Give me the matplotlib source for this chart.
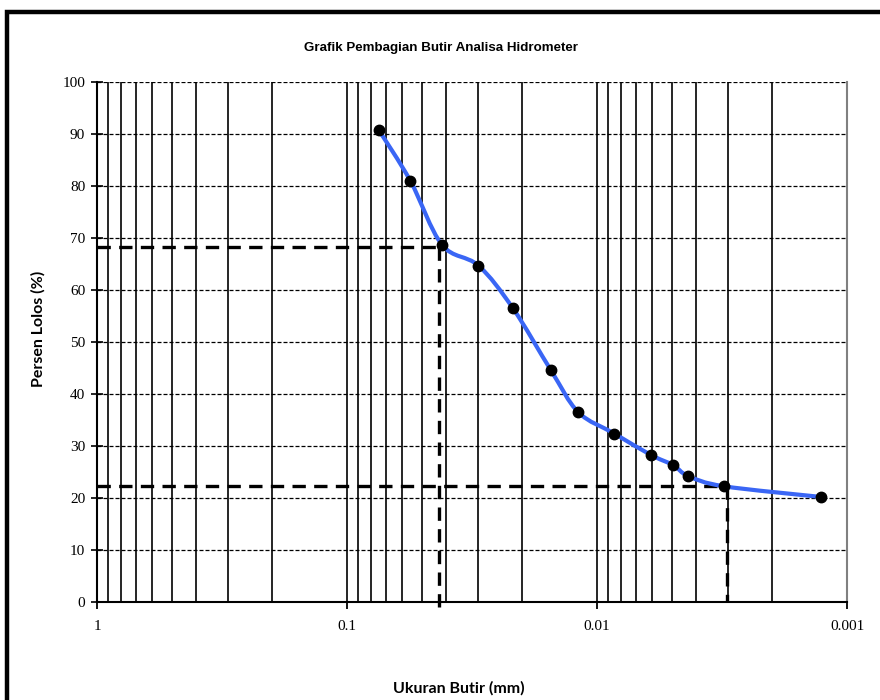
import numpy as np
import matplotlib
matplotlib.use("Agg")
import matplotlib.pyplot as plt
from matplotlib.path import Path
from matplotlib.patches import PathPatch, Rectangle
from matplotlib.ticker import FixedLocator, FixedFormatter, NullFormatter

# ---- data ----
diameter_mm = [0.0747, 0.0558, 0.0417, 0.0298, 0.0217, 0.0153, 0.01188,
               0.00853, 0.0061, 0.00495, 0.00431, 0.0031, 0.00127]
percent_passing = [90.8, 81.0, 68.7, 64.7, 56.5, 44.6, 36.5,
                   32.4, 28.3, 26.3, 24.2, 22.25, 20.2]

ref_d = [0.0427, 0.00303]        # diameters of the dashed reference lines
ref_p = [68.3, 22.25]            # percent of the dashed reference lines

x_ticks = [1, 0.1, 0.01, 0.001]
x_tick_labels = ["1", "0.1", "0.01", "0.001"]
y_ticks = [0, 10, 20, 30, 40, 50, 60, 70, 80, 90, 100]

title = "Grafik Pembagian Butir Analisa Hidrometer"
xlabel = "Ukuran Butir (mm)"
ylabel = "Persen Lolos (%)"

# ---- figure ----
W, H = 880, 700
fig = plt.figure(figsize=(W / 100, H / 100), dpi=100)
fig.patch.set_facecolor("white")

# outer frame (only top and left edges visible in reference)
fig.add_artist(Rectangle((7 / W, -0.05), 1.2, (H - 12) / H + 0.05,
                         transform=fig.transFigure, fill=False,
                         edgecolor="black", linewidth=3.2))

ax = fig.add_axes([97 / W, 1 - 602 / H, (847 - 97) / W, (602 - 82) / H])
ax.set_xscale("log")
ax.set_xlim(1, 0.001)
ax.set_ylim(0, 100)

# vertical grid: solid black at every minor/major log position
minor_pos = [m * 10.0 ** e for e in (-1, -2, -3) for m in range(2, 10)]
for xv in minor_pos + [0.1, 0.01]:
    ax.axvline(xv, color="black", lw=1.2, zorder=1)
# horizontal grid: dashed
for yv in y_ticks[1:]:
    ax.axhline(yv, color="black", lw=0.9, ls=(0, (3.2, 1.6)), zorder=1)

# spines
ax.spines["top"].set_visible(False)
ax.spines["right"].set_color("#808080")
ax.spines["right"].set_linewidth(1.5)
ax.spines["left"].set_linewidth(1.5)
ax.spines["bottom"].set_linewidth(1.5)

ax.xaxis.set_major_locator(FixedLocator(x_ticks))
ax.xaxis.set_major_formatter(FixedFormatter(x_tick_labels))
ax.xaxis.set_minor_formatter(NullFormatter())
ax.tick_params(axis="x", which="minor", length=0)
ax.tick_params(axis="x", which="major", direction="out", length=5, width=1.3,
               pad=8, labelsize=11)
ax.set_yticks(y_ticks)
ax.tick_params(axis="y", direction="inout", length=9, width=1.2, pad=4,
               labelsize=11)
for lab in ax.get_xticklabels() + ax.get_yticklabels():
    lab.set_fontfamily("Liberation Serif")

# dashed reference lines
for i, (d, p) in enumerate(zip(ref_d, ref_p)):
    ax.plot([1, d], [p, p], color="black", lw=2.4, ls=(0, (4, 2.5)), zorder=3)
    ybot = -1.5 if i == 0 else 0
    ax.plot([d, d], [p, ybot], color="black", lw=2.4, ls=(0, (4, 2.5)),
            zorder=3, clip_on=False)

# smooth curve (Bezier through points, computed in log-x space)
lx = np.log10(diameter_mm)
py = np.array(percent_passing)
n = len(lx)
verts = [(diameter_mm[0], py[0])]
codes = [Path.MOVETO]
for i in range(n - 1):
    i0 = max(i - 1, 0)
    i3 = min(i + 2, n - 1)
    c1 = (lx[i] + (lx[i + 1] - lx[i0]) / 6, py[i] + (py[i + 1] - py[i0]) / 6)
    c2 = (lx[i + 1] - (lx[i3] - lx[i]) / 6, py[i + 1] - (py[i3] - py[i]) / 6)
    verts += [(10 ** c1[0], c1[1]), (10 ** c2[0], c2[1]),
              (diameter_mm[i + 1], py[i + 1])]
    codes += [Path.CURVE4] * 3
ax.add_patch(PathPatch(Path(verts, codes), fill=False, edgecolor="#3A66F5",
                       lw=3.0, zorder=4, capstyle="round", joinstyle="round"))
ax.plot(diameter_mm, percent_passing, ls="none", marker="o", ms=7.5,
        color="black", zorder=5)

# texts
fig.text(441 / W, 1 - 48 / H, title, ha="center", va="center",
         fontsize=9.6, fontweight="bold",
         family=["Liberation Sans", "DejaVu Sans"])
fig.text(38 / W, 1 - 329 / H, ylabel, ha="center", va="center",
         rotation=90, fontsize=11.5, fontweight="bold", family="Lato")
fig.text(459 / W, 1 - 688 / H, xlabel, ha="center", va="center",
         fontsize=11.5, fontweight="bold", family="Lato")

fig.savefig("out.png", dpi=100, facecolor="white")
